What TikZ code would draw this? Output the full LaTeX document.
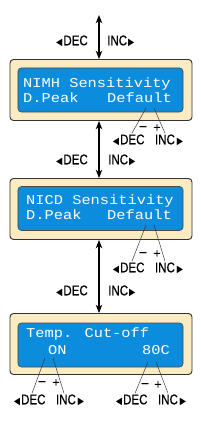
\documentclass[tikz,border=0pt]{standalone}
\usepackage{fontspec}
\setmainfont{Liberation Sans}
\newfontfamily\keyfont{Liberation Sans}[FakeBold=0.8]
\newfontfamily\lcdfont{Liberation Mono}
\newfontfamily\trifont{DejaVu Sans}
\usetikzlibrary{arrows.meta,calc,positioning}
\definecolor{panelCream}{HTML}{FBEBC3}
\definecolor{lcdBlue}{HTML}{0C8CDD}
\newcommand{\lt}{{\trifont\fontsize{8.5}{8.5}\selectfont ◀}}
\newcommand{\rt}{{\trifont\fontsize{8.5}{8.5}\selectfont ▶}}
\newcommand{\lcd}[1]{\scalebox{1.14}[1]{#1}}
\newcommand{\key}[1]{\scalebox{0.82}[1]{#1}}
\newcommand{\decinc}{\key{\lt\kern1pt DEC\hspace{11pt}INC\hspace{2pt}\rt}}

\begin{document}
\begin{tikzpicture}[
  x=0.03cm, y=-0.03cm,
  >={Stealth[length=7pt,width=5.5pt,inset=2pt]},
  line cap=round,
  panel/.style={draw=black!80, fill=panelCream, line width=0.8pt, rounded corners=3pt,
    minimum width=5.46cm, minimum height=1.83cm, inner sep=0pt},
  screen/.style={draw=black!70, fill=lcdBlue, line width=0.6pt, rounded corners=3pt,
    minimum width=4.95cm, minimum height=1.32cm, inner sep=0pt},
  lcdtxt/.style={text=white, font=\lcdfont\fontsize{11.5}{12}\selectfont, inner sep=0pt},
  keys/.style={font=\keyfont\fontsize{12}{13}\selectfont, inner sep=0pt},
  sign/.style={font=\keyfont\fontsize{10.5}{11}\selectfont, inner sep=0pt},
  link/.style={<->, line width=1.1pt},
  lead/.style={line width=0.4pt, black!80}
]
  \useasboundingbox (0,0) rectangle (201,421);

  % Panels and displays
  \node[panel] (nimh) at (101,90) {};
  \node[screen] (nimhlcd) at (100.5,90) {};
  \node[panel] (nicd) at (101,209) {};
  \node[screen] (nicdlcd) at (100.5,208.5) {};
  \node[panel] (temp) at (101,344) {};
  \node[screen] (templcd) at (100.5,345) {};

  % Display texts
  \node[lcdtxt, anchor=base west] at (23,87) {\lcd{NIMH Sensitivity}};
  \node[lcdtxt, anchor=base west] at (23,102) {\lcd{D.Peak}};
  \node[lcdtxt, anchor=base east] at (172,102) {\lcd{Default}};
  \node[lcdtxt, anchor=base west] at (26,204) {\lcd{NICD Sensitivity}};
  \node[lcdtxt, anchor=base west] at (26,219) {\lcd{D.Peak}};
  \node[lcdtxt, anchor=base east] at (172,219) {\lcd{Default}};
  \node[lcdtxt, anchor=base west] at (26,337) {\lcd{Temp. Cut-off}};
  \node[lcdtxt, anchor=base west] at (48,354) {\lcd{ON}};
  \node[lcdtxt, anchor=base east] at (170,354) {\lcd{80C}};

  % Scrolling arrows between the screens
  \coordinate (top) at (99,15);
  \draw[link] (top) -- (top |- nimh.north);
  \draw[link] (top |- nimh.south) -- (top |- nicd.north);
  \draw[link] (top |- nicd.south) -- (top |- temp.north);

  \node[keys, anchor=east] at (88,41) {\key{\lt\kern1pt DEC}};
  \node[keys, anchor=west] at (107,41) {\key{INC\kern1pt\rt}};
  \node[keys, anchor=east] at (88,160) {\key{\lt\kern1pt DEC}};
  \node[keys, anchor=west] at (108,160) {\key{INC\kern1pt\rt}};
  \node[keys, anchor=east] at (88,291) {\key{\lt\kern1pt DEC}};
  \node[keys, anchor=west] at (108,291) {\key{INC\kern1pt\rt}};

  % Value keys, NIMH
  \node[keys] (nimhkeys) at (148,140) {\decinc};
  \node[sign] at (143,128) {–};
  \node[sign] at (157,128) {+};
  \coordinate (nimhm) at (146,108);
  \coordinate (nimhp) at (154,108);
  \draw[lead] (nimhm) -- ($(nimhkeys.north)+(-16,-1)$);
  \draw[lead] (nimhp) -- ($(nimhkeys.north)+(17,-1)$);

  % Value keys, NICD
  \node[keys] (nicdkeys) at (148,268) {\decinc};
  \node[sign] at (143,254) {–};
  \node[sign] at (157,254) {+};
  \coordinate (nicdm) at (146,225);
  \coordinate (nicdp) at (154,225);
  \draw[lead] (nicdm) -- ($(nicdkeys.north)+(-16,-1)$);
  \draw[lead] (nicdp) -- ($(nicdkeys.north)+(17,-1)$);

  % Value keys, cut-off on/off
  \node[keys] (onkeys) at (49,400) {\decinc};
  \node[sign] at (42,383) {–};
  \node[sign] at (56,383) {+};
  \coordinate (onm) at (45,358);
  \coordinate (onp) at (53,358);
  \draw[lead] (onm) -- ($(onkeys.north)+(-17,-1)$);
  \draw[lead] (onp) -- ($(onkeys.north)+(15,-1)$);

  % Value keys, cut-off temperature
  \node[keys] (degkeys) at (151,400) {\decinc};
  \node[sign] at (145,385) {–};
  \node[sign] at (158,385) {+};
  \coordinate (degm) at (148,362);
  \coordinate (degp) at (156,362);
  \draw[lead] (degm) -- ($(degkeys.north)+(-16,-1)$);
  \draw[lead] (degp) -- ($(degkeys.north)+(17,-1)$);
\end{tikzpicture}
\end{document}
